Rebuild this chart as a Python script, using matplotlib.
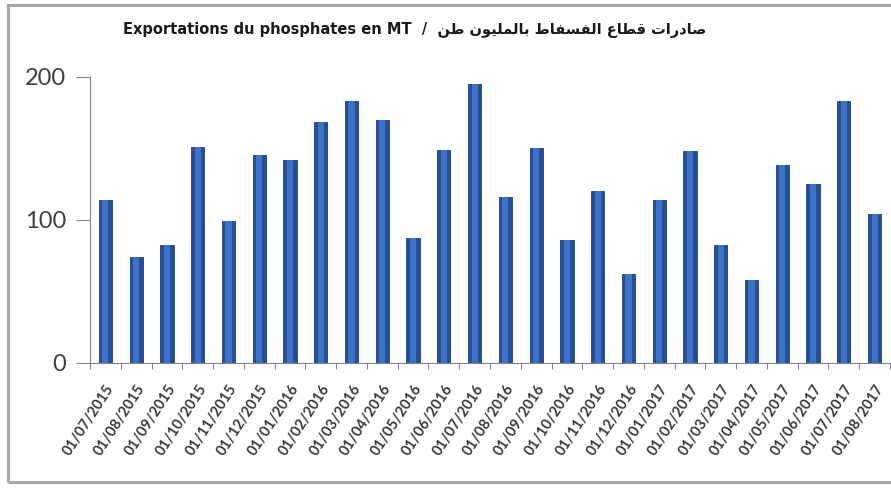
import matplotlib
matplotlib.use("Agg")
import matplotlib.pyplot as plt
from matplotlib.patches import Rectangle
import numpy as np

dates = ["01/07/2015", "01/08/2015", "01/09/2015", "01/10/2015", "01/11/2015",
         "01/12/2015", "01/01/2016", "01/02/2016", "01/03/2016", "01/04/2016",
         "01/05/2016", "01/06/2016", "01/07/2016", "01/08/2016", "01/09/2016",
         "01/10/2016", "01/11/2016", "01/12/2016", "01/01/2017", "01/02/2017",
         "01/03/2017", "01/04/2017", "01/05/2017", "01/06/2017", "01/07/2017",
         "01/08/2017"]
exports = [114, 74, 82, 151, 99, 145, 142, 168, 183, 170, 87, 149, 195, 116,
           150, 86, 120, 62, 114, 148, 82, 58, 138, 125, 183, 104]
yticks = [0, 100, 200]

title_fr = "Exportations du phosphates en MT"
title_ar = "صادرات قطاع الفسفاط بالمليون طن"

# matplotlib does no arabic shaping: pick the presentation forms by hand
# (isolated, final, initial, medial)
FORMS = {
    "ا": (0xFE8D, 0xFE8E, None, None),
    "ب": (0xFE8F, 0xFE90, 0xFE91, 0xFE92),
    "ت": (0xFE95, 0xFE96, 0xFE97, 0xFE98),
    "د": (0xFEA9, 0xFEAA, None, None),
    "ر": (0xFEAD, 0xFEAE, None, None),
    "س": (0xFEB1, 0xFEB2, 0xFEB3, 0xFEB4),
    "ص": (0xFEB9, 0xFEBA, 0xFEBB, 0xFEBC),
    "ط": (0xFEC1, 0xFEC2, 0xFEC3, 0xFEC4),
    "ع": (0xFEC9, 0xFECA, 0xFECB, 0xFECC),
    "ف": (0xFED1, 0xFED2, 0xFED3, 0xFED4),
    "ق": (0xFED5, 0xFED6, 0xFED7, 0xFED8),
    "ل": (0xFEDD, 0xFEDE, 0xFEDF, 0xFEE0),
    "م": (0xFEE1, 0xFEE2, 0xFEE3, 0xFEE4),
    "ن": (0xFEE5, 0xFEE6, 0xFEE7, 0xFEE8),
    "و": (0xFEED, 0xFEEE, None, None),
    "ي": (0xFEF1, 0xFEF2, 0xFEF3, 0xFEF4),
}


def shape_arabic(s):
    out = []
    for i, c in enumerate(s):
        if c not in FORMS:
            out.append(c)
            continue
        prev = s[i - 1] if i > 0 else ""
        nxt = s[i + 1] if i + 1 < len(s) else ""
        jp = prev in FORMS and FORMS[prev][2] is not None
        jn = nxt in FORMS and FORMS[c][2] is not None
        iso, fin, ini, med = FORMS[c]
        if jp and jn:
            code = med
        elif jp:
            code = fin
        elif jn:
            code = ini
        else:
            code = iso
        out.append(chr(code))
    return "".join(out)[::-1]


fig = plt.figure(figsize=(8.91, 4.88), dpi=100)
fig.patch.set_facecolor("white")

# outer chart frame (right side runs off the picture)
fig.patches.append(Rectangle((8 / 891, 1 - 482 / 488), 1.05, (482 - 5) / 488,
                             transform=fig.transFigure, fill=False,
                             edgecolor="#A8A8A8", linewidth=2.2))

ax = fig.add_axes([90 / 891, 1 - 362.6 / 488, 800 / 891, (362.6 - 76.7) / 488])
x = np.arange(len(dates))
ax.bar(x, exports, width=0.43, color="#24509A", edgecolor="#1C3F7A", linewidth=0.6, zorder=2)
ax.bar(x, exports, width=0.2, color="#3C73C6", linewidth=0, zorder=3)

ax.set_xlim(-0.5, len(dates) - 0.5)
ax.set_ylim(0, 200)
ax.set_yticks(yticks)
ax.set_yticklabels([str(v) for v in yticks], fontsize=17, family="Lato", color="#404040")
ax.tick_params(axis="y", length=10, width=0.8, color="#868686", pad=7)

ax.set_xticks(x)
ax.set_xticklabels(dates, rotation=57, ha="right", rotation_mode="anchor",
                   fontsize=10.5, family="Lato", fontweight="bold", color="#3A3A3A")
ax.tick_params(axis="x", which="major", length=0, pad=14)
ax.set_xticks(np.arange(-0.5, len(dates), 1.0), minor=True)
ax.tick_params(axis="x", which="minor", length=4, width=0.8, color="#868686")

for side in ["top", "right"]:
    ax.spines[side].set_visible(False)
for side in ["left", "bottom"]:
    ax.spines[side].set_color("#868686")
    ax.spines[side].set_linewidth(0.8)

fig.text(123 / 891, 1 - 30 / 488, title_fr + "  /  " + shape_arabic(title_ar),
         ha="left", va="center", fontsize=10.5, fontweight="bold",
         family=["DejaVu Sans"], color="#1A1A1A")

fig.savefig("out.png", dpi=100)
